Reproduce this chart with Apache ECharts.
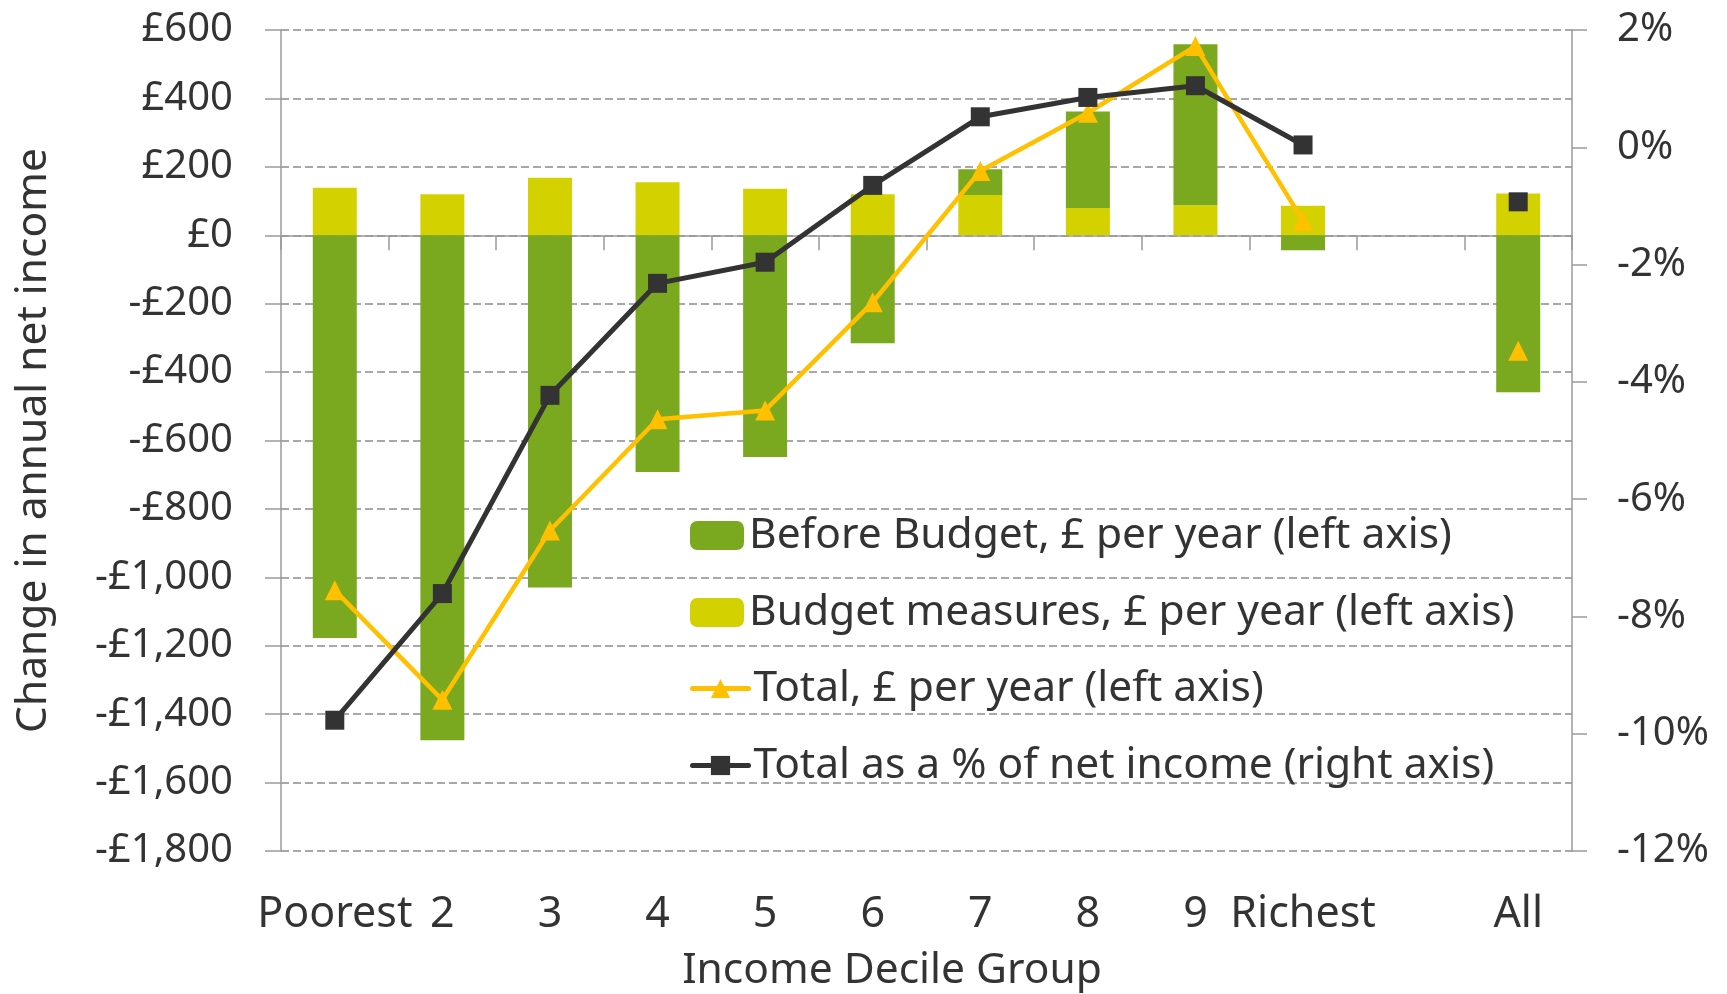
<!DOCTYPE html>
<html>
<head>
<meta charset="utf-8">
<script src="https://cdn.jsdelivr.net/npm/echarts@6/dist/echarts.min.js"></script>
<style>
  html, body { margin: 0; padding: 0; background: #fff; }
  #chart { width: 1727px; height: 994px; }
</style>
</head>
<body>
<div id="chart"></div>
<script>
// income decile groups, with an empty slot before "All"
const categories = ["Poorest", "2", "3", "4", "5", "6", "7", "8", "9", "Richest", "", "All"];

// £ per year, left axis
const beforeBudget = [-1177, -1476, -1030, -692, -648, -316, 75, 282, 470, -44, null, -459];
const budgetMeasures = [139, 120, 168, 155, 136, 120, 118, 80, 88, 86, null, 122];
const totalPounds = [-1038, -1358, -863, -538, -512, -196, 188, 358, 553, 42, null, -338];

// % of net income, right axis
const totalPercent = [-9.77, -7.61, -4.23, -2.32, -1.96, -0.65, 0.52, 0.85, 1.05, 0.04, null, -0.93];

const seriesNames = [
  "Before Budget, £ per year (left axis)",
  "Budget measures, £ per year (left axis)",
  "Total, £ per year (left axis)",
  "Total as a % of net income (right axis)"
];

const FONT = "Noto Sans";
const TEXT = "#333333";
const AXIS_GREY = "#9a9a9a";

const chart = echarts.init(document.getElementById("chart"));

const poundLabel = (v) => {
  const s = "£" + Math.abs(v).toLocaleString("en-GB");
  return v < 0 ? "-" + s : s;
};

const option = {
  animation: false,
  textStyle: { fontFamily: FONT, color: TEXT },
  grid: { left: 281, right: 155, top: 30, bottom: 143 },
  legend: [
    {
      data: [seriesNames[0], seriesNames[1]],
      orient: "vertical",
      left: 685,
      top: 509,
      itemWidth: 54,
      itemHeight: 29,
      itemGap: 34,
      textStyle: { fontFamily: FONT, fontSize: 42.5, color: TEXT }
    },
    {
      data: [seriesNames[2], seriesNames[3]],
      orient: "vertical",
      left: 685,
      top: 662,
      itemWidth: 56,
      itemHeight: 24,
      itemGap: 34,
      lineStyle: { width: 5, cap: "round" },
      textStyle: { fontFamily: FONT, fontSize: 42.5, color: TEXT }
    }
  ],
  graphic: [
    {
      type: "text",
      x: 892,
      y: 971,
      style: {
        text: "Income Decile Group",
        font: "42.5px 'Noto Sans'",
        fill: TEXT,
        textAlign: "center",
        textVerticalAlign: "middle"
      }
    }
  ],
  xAxis: [
    {
      type: "category",
      data: categories,
      position: "bottom",
      axisLine: { onZero: true, onZeroAxisIndex: 0, lineStyle: { color: AXIS_GREY, width: 1.5 } },
      axisTick: { show: true, interval: 0, length: 15, lineStyle: { color: AXIS_GREY, width: 1.5 } },
      axisLabel: { show: false },
      splitLine: { show: false }
    },
    {
      type: "category",
      data: categories,
      position: "bottom",
      axisLine: { show: false, onZero: false },
      axisTick: { show: false },
      axisLabel: { interval: 0, margin: 42, fontSize: 43, color: TEXT, fontFamily: FONT },
      splitLine: { show: false }
    }
  ],
  yAxis: [
    {
      type: "value",
      min: -1800,
      max: 600,
      interval: 200,
      name: "Change in annual net income",
      nameLocation: "middle",
      nameGap: 226,
      nameTextStyle: { fontSize: 42.5, color: TEXT, fontFamily: FONT },
      axisLine: { show: true, lineStyle: { color: AXIS_GREY, width: 1.5 } },
      axisTick: { show: true, length: 16, lineStyle: { color: AXIS_GREY, width: 1.5 } },
      axisLabel: { formatter: poundLabel, fontSize: 40, margin: 48, color: TEXT, fontFamily: FONT },
      splitLine: { show: true, lineStyle: { color: "#8c8c8c", width: 1.5, type: [8, 4] } }
    },
    {
      type: "value",
      min: -12,
      max: 2,
      interval: 2,
      position: "right",
      axisLine: { show: true, lineStyle: { color: AXIS_GREY, width: 1.5 } },
      axisTick: { show: true, length: 15, lineStyle: { color: AXIS_GREY, width: 1.5 } },
      axisLabel: { formatter: (v) => v + "%", fontSize: 40, margin: 45, color: TEXT, fontFamily: FONT },
      splitLine: { show: false }
    }
  ],
  series: [
    {
      // drawn first so it sits at the bottom of the stack
      name: seriesNames[1],
      type: "bar",
      stack: "change",
      barWidth: 44,
      data: budgetMeasures,
      itemStyle: { color: "#d4d100" }
    },
    {
      name: seriesNames[0],
      type: "bar",
      stack: "change",
      barWidth: 44,
      data: beforeBudget,
      itemStyle: { color: "#7aa91f" }
    },
    {
      name: seriesNames[2],
      type: "line",
      data: totalPounds,
      symbol: "triangle",
      symbolSize: 20,
      connectNulls: false,
      lineStyle: { color: "#ffc000", width: 4.5 },
      itemStyle: { color: "#ffc000" },
      z: 3
    },
    {
      name: seriesNames[3],
      type: "line",
      yAxisIndex: 1,
      data: totalPercent,
      symbol: "rect",
      symbolSize: 19,
      connectNulls: false,
      lineStyle: { color: "#333333", width: 5 },
      itemStyle: { color: "#333333" },
      z: 4
    }
  ]
};

chart.setOption(option);
window.addEventListener("resize", () => chart.resize());
</script>
</body>
</html>
